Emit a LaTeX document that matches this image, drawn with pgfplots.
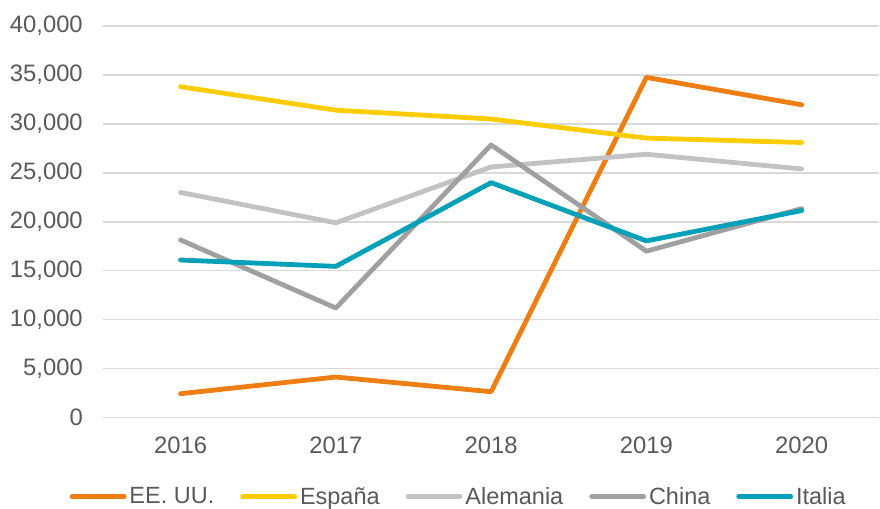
\documentclass[border=0pt]{standalone}
\usepackage{fontspec}
\setmainfont{Liberation Sans}
\usepackage{pgfplots}
\pgfplotsset{compat=1.18}
\definecolor{cEEUU}{HTML}{EE7D12}
\definecolor{cEsp}{HTML}{FFCC00}
\definecolor{cAle}{HTML}{C2C2C2}
\definecolor{cChi}{HTML}{A0A0A0}
\definecolor{cIta}{HTML}{00A0B8}
\definecolor{txt}{HTML}{595959}
\definecolor{grd}{HTML}{D9D9D9}
\begin{document}
\begin{tikzpicture}
\begin{axis}[
  name=ax,
  scale only axis,
  width=777pt, height=392pt,
  xmin=-0.5, xmax=4.5,
  ymin=0, ymax=40000,
  xtick={0,1,2,3,4},
  xticklabels={2016,2017,2018,2019,2020},
  ytick={0,5000,...,40000},
  scaled y ticks=false,
  axis line style={draw=none},
  major tick length=0pt,
  ymajorgrids,
  grid style={color=grd, line width=1.4pt},
  tick label style={font=\fontsize{23.8}{28}\selectfont, text=txt},
  yticklabel style={inner sep=0pt, xshift=-20pt, /pgf/number format/.cd, 1000 sep={,}, assume math mode=true},
  xticklabel style={inner sep=0pt, yshift=-19pt, /pgf/number format/assume math mode=true},
  every axis plot/.append style={line width=4.8pt, line cap=round, line join=round},
  legend image code/.code={\draw[line width=4.8pt, line cap=round] (0pt,0pt) -- (52pt,0pt);},
  legend style={
    at={(0.457,-0.2015)}, anchor=center,
    draw=none, fill=none,
    legend columns=-1,
    font=\fontsize{23.5}{28}\selectfont,
    text=txt,
    nodes={inner sep=0pt},
    /tikz/every odd column/.append style={column sep=3pt},
    /tikz/every even column/.append style={column sep=26pt},
  },
]
\addplot[color=cEEUU] coordinates {(0,2450) (1,4150) (2,2650) (3,34750) (4,31950)};
\addlegendentry{EE. UU.}
\addplot[color=cEsp] coordinates {(0,33800) (1,31400) (2,30500) (3,28550) (4,28100)};
\addlegendentry{España}
\addplot[color=cAle] coordinates {(0,23000) (1,19900) (2,25600) (3,26900) (4,25400)};
\addlegendentry{Alemania}
\addplot[color=cChi] coordinates {(0,18150) (1,11200) (2,27850) (3,17000) (4,21350)};
\addlegendentry{China}
\addplot[color=cIta] coordinates {(0,16100) (1,15450) (2,24000) (3,18050) (4,21150)};
\addlegendentry{Italia}
\end{axis}
\path (ax.south west) ++(-103pt,-91pt) coordinate (bbA);
\path (ax.south west) ++(777pt,418pt) coordinate (bbB);
\path[use as bounding box] (bbA) rectangle (bbB);
\end{tikzpicture}
\end{document}
